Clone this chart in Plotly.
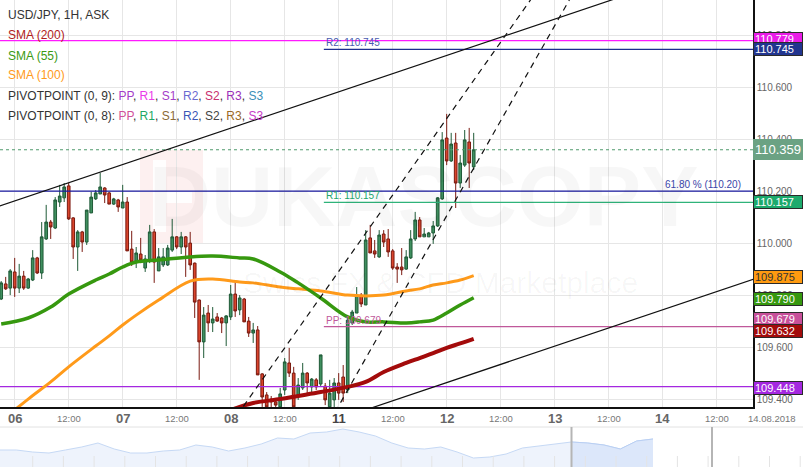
import plotly.graph_objects as go

# ---------------- data ----------------
# hour index: 0 = 06 Aug 00:00, weekend hours skipped
hours = list(range(-3, 103))
opens = [109.785, 109.843, 109.827, 109.889, 109.827, 109.873, 109.827, 109.858, 109.943, 109.885,
         110.016, 110.081, 110.058, 110.158, 110.174, 110.220, 110.097, 109.985, 110.043, 110.004,
         110.116, 110.170, 110.189, 110.212, 110.193, 110.150, 110.166, 110.135, 110.158, 109.977,
         109.931, 109.958, 109.904, 109.935, 110.043, 109.893, 109.916, 109.916, 109.973, 110.024,
         109.985, 110.024, 110.000, 109.923, 109.781, 109.620, 109.731, 109.693, 109.716, 109.712,
         109.693, 109.716, 109.804, 109.743, 109.785, 109.700, 109.654, 109.666, 109.497, 109.416,
         109.400, 109.389, 109.370, 109.435, 109.539, 109.500, 109.416, 109.443, 109.500, 109.447,
         109.474, 109.458, 109.450, 109.370, 109.397, 109.462, 109.485, 109.435, 109.693, 109.731,
         109.800, 109.762, 110.020, 109.970, 109.947, 110.035, 110.016, 109.970, 109.908, 109.908,
         109.900, 109.943, 110.016, 110.089, 110.024, 110.024, 110.039, 110.066, 110.170, 110.404,
         110.316, 110.385, 110.231, 110.300, 110.389, 110.293]
highs = [109.854, 109.870, 109.900, 109.943, 109.920, 109.893, 109.866, 109.973, 109.947, 110.081,
         110.147, 110.089, 110.177, 110.224, 110.231, 110.231, 110.100, 110.050, 110.047, 110.127,
         110.197, 110.204, 110.270, 110.215, 110.197, 110.174, 110.170, 110.224, 110.177, 110.047,
         109.985, 110.020, 109.954, 110.070, 110.054, 109.981, 109.981, 109.993, 110.093, 110.027,
         110.043, 110.027, 110.043, 109.925, 109.783, 109.754, 109.762, 109.754, 109.731, 109.716,
         109.723, 109.839, 109.850, 109.800, 109.789, 109.716, 109.693, 109.681, 109.500, 109.427,
         109.412, 109.404, 109.443, 109.558, 109.597, 109.524, 109.481, 109.539, 109.504, 109.481,
         109.481, 109.570, 109.462, 109.474, 109.481, 109.500, 109.531, 109.712, 109.743, 109.831,
         109.808, 110.050, 110.070, 110.012, 110.050, 110.050, 110.054, 109.977, 109.923, 109.981,
         109.973, 110.050, 110.120, 110.100, 110.058, 110.043, 110.085, 110.177, 110.427, 110.497,
         110.424, 110.424, 110.339, 110.435, 110.443, 110.424]
lows = [109.781, 109.820, 109.800, 109.793, 109.808, 109.820, 109.824, 109.854, 109.881, 109.862,
        110.012, 110.016, 110.054, 110.139, 110.158, 110.089, 109.939, 109.893, 109.966, 109.993,
        110.116, 110.166, 110.189, 110.154, 110.150, 110.147, 110.120, 110.135, 109.970, 109.912,
        109.904, 109.923, 109.889, 109.923, 109.847, 109.893, 109.908, 109.912, 109.966, 109.977,
        109.958, 109.870, 109.897, 109.712, 109.474, 109.558, 109.658, 109.658, 109.697, 109.654,
        109.604, 109.704, 109.716, 109.723, 109.697, 109.639, 109.616, 109.493, 109.370, 109.350,
        109.366, 109.350, 109.358, 109.416, 109.485, 109.358, 109.397, 109.435, 109.423, 109.423,
        109.435, 109.447, 109.377, 109.358, 109.358, 109.397, 109.389, 109.423, 109.685, 109.731,
        109.754, 109.762, 109.962, 109.943, 109.943, 109.985, 109.947, 109.897, 109.847, 109.877,
        109.897, 109.939, 110.008, 110.024, 110.024, 110.024, 109.997, 110.062, 110.166, 110.300,
        110.312, 110.135, 110.212, 110.293, 110.212, 110.281]
closes = [109.847, 109.824, 109.893, 109.827, 109.873, 109.827, 109.862, 109.943, 109.885, 110.024,
          110.081, 110.062, 110.166, 110.181, 110.216, 110.093, 109.985, 110.043, 110.004, 110.127,
          110.177, 110.193, 110.216, 110.185, 110.150, 110.170, 110.139, 110.158, 109.970, 109.927,
          109.962, 109.935, 109.939, 110.043, 109.927, 109.947, 109.947, 109.981, 110.024, 109.985,
          110.024, 109.985, 109.916, 109.773, 109.620, 109.723, 109.693, 109.708, 109.700, 109.693,
          109.720, 109.804, 109.739, 109.789, 109.697, 109.654, 109.666, 109.493, 109.408, 109.370,
          109.389, 109.377, 109.420, 109.543, 109.500, 109.370, 109.454, 109.500, 109.462, 109.477,
          109.447, 109.570, 109.397, 109.423, 109.462, 109.423, 109.423, 109.704, 109.735, 109.800,
          109.766, 110.012, 109.962, 109.958, 110.031, 110.004, 109.966, 109.904, 109.900, 109.897,
          109.947, 110.016, 110.089, 110.024, 110.035, 110.039, 110.066, 110.174, 110.397, 110.316,
          110.381, 110.231, 110.308, 110.397, 110.308, 110.359]

sma_hours = [-3, 3, 8, 12, 18, 21, 24, 27, 32, 39, 44, 50, 53, 59, 63, 68, 74, 78, 82, 87, 90, 93, 96, 99, 102]
sma55 = [109.689, 109.712, 109.754, 109.804, 109.858, 109.881, 109.908, 109.927, 109.935, 109.947, 109.950,
         109.943, 109.939, 109.889, 109.847, 109.789, 109.716, 109.697, 109.697, 109.693, 109.697, 109.704,
         109.731, 109.762, 109.790]
sma100 = [109.316, 109.400, 109.466, 109.524, 109.604, 109.643, 109.685, 109.723, 109.781, 109.854, 109.862,
          109.850, 109.847, 109.831, 109.824, 109.816, 109.800, 109.797, 109.800, 109.816, 109.824, 109.839,
          109.847, 109.858, 109.875]
sma200_hours = [48, 53, 59, 63, 68, 74, 78, 82, 87, 90, 93, 96, 99, 102]
sma200 = [109.358, 109.385, 109.400, 109.412, 109.427, 109.447, 109.466, 109.504, 109.539, 109.558,
          109.577, 109.597, 109.614, 109.632]

# drawn trend lines: (hour, price) end points
channel_upper = ([-4, 140], [110.139, 110.978])
channel_lower = ([75, 165], [109.341, 109.866])
dashed_a = ([48, 118], [109.303, 111.018])
dashed_b = ([70, 128], [109.313, 111.080])

# horizontal levels
level_r3 = 110.779
level_r2 = 110.745
last_price = 110.359
fib_618 = 110.20
level_r1 = 110.157
level_pp = 109.679
level_s = 109.448
pivot_start = 68.7

day_ticks = [0, 24, 48, 72, 96, 120, 144]
day_labels = ["06", "07", "08", "11", "12", "13", "14"]
half_ticks = [12, 36, 60, 84, 108, 132, 156]
half_labels = ["12:00"] * 7
y_ticks = [109.4, 109.6, 109.8, 110.0, 110.2, 110.4, 110.6, 110.8]

nav_values = [17, 17, 15, 14, 17, 20, 24, 18, 14, 14, 16, 17, 22, 20, 16, 19, 23, 29, 28, 34, 35,
              38, 35, 31, 24, 19, 18, 20, 15, 9, 10, 13, 19, 21, 23, 25, 24, 22, 18, 26, 28]
nav_sel_start = 35

# ---------------- layout helpers ----------------
W, H = 803, 467
PLOT_R = 753
PLOT_B = 407
XMIN, XMAX = -3.267, 164.07
YMIN, YMAX = 109.3696, 110.935

def px(x):
    return x / W

def py(y):
    return 1 - y / H

fig = go.Figure()

def hline(y, x0, color, width=1, dash="solid"):
    fig.add_trace(go.Scatter(x=[x0, XMAX], y=[y, y], mode="lines",
                             line=dict(color=color, width=width, dash=dash),
                             hoverinfo="skip", showlegend=False))

hline(level_r3, XMIN, "#ff1aff", 1.2)
hline(level_r2, pivot_start, "#1f2f8f", 1.2)
hline(last_price, XMIN, "#4f9a6c", 1, "3px,3px")
hline(fib_618, XMIN, "#1a1aa0", 1.2)
hline(level_r1, pivot_start, "#2fb37a", 1.2)
hline(level_pp, pivot_start, "#c0589a", 1.2)
hline(level_s, XMIN, "#a428e0", 1.2)

# moving averages
fig.add_trace(go.Scatter(x=sma_hours, y=sma100, mode="lines", line=dict(color="#ff9a1a", width=3, shape="spline"),
                         hoverinfo="skip", showlegend=False))
fig.add_trace(go.Scatter(x=sma_hours, y=sma55, mode="lines", line=dict(color="#36980f", width=3.5, shape="spline"),
                         hoverinfo="skip", showlegend=False))
fig.add_trace(go.Scatter(x=sma200_hours, y=sma200, mode="lines", line=dict(color="#a30b0b", width=4, shape="spline"),
                         hoverinfo="skip", showlegend=False))

fig.add_trace(go.Candlestick(
    x=hours, open=opens, high=highs, low=lows, close=closes,
    increasing=dict(line=dict(color="#1f5a37", width=1), fillcolor="#3f8f5f"),
    decreasing=dict(line=dict(color="#7a1a10", width=1), fillcolor="#d9442c"),
    whiskerwidth=0, showlegend=False, hoverinfo="skip"))

for (xs, ys), dash in [(channel_upper, "solid"), (channel_lower, "solid"),
                       (dashed_a, "6px,5px"), (dashed_b, "6px,5px")]:
    fig.add_trace(go.Scatter(x=xs, y=ys, mode="lines", line=dict(color="#111111", width=1.2, dash=dash),
                             hoverinfo="skip", showlegend=False))

# navigator
nav_x = list(range(len(nav_values)))
fig.add_trace(go.Scatter(x=nav_x, y=nav_values, mode="lines", fill="tozeroy", fillcolor="#eef3fc",
                         line=dict(color="#c6d9f5", width=1), xaxis="x2", yaxis="y2",
                         hoverinfo="skip", showlegend=False))
fig.add_trace(go.Scatter(x=nav_x[nav_sel_start:], y=nav_values[nav_sel_start:], mode="lines", fill="tozeroy",
                         fillcolor="#dce7fa", line=dict(color="#b9cff3", width=1), xaxis="x2", yaxis="y2",
                         hoverinfo="skip", showlegend=False))

shapes = []
# watermark logo
shapes.append(dict(type="rect", xref="paper", yref="paper", x0=px(140), x1=px(203), y0=py(243), y1=py(150),
                   fillcolor="rgba(235,70,70,0.08)", line=dict(width=0), layer="below"))
shapes.append(dict(type="rect", xref="paper", yref="paper", x0=px(153), x1=px(166), y0=py(232), y1=py(160),
                   fillcolor="rgba(255,255,255,0.9)", line=dict(width=0), layer="below"))
shapes.append(dict(type="rect", xref="paper", yref="paper", x0=px(166), x1=px(192), y0=py(203), y1=py(192),
                   fillcolor="rgba(255,255,255,0.9)", line=dict(width=0), layer="below"))
# navigator decorations
shapes.append(dict(type="line", xref="paper", yref="paper", x0=0, x1=1, y0=py(427), y1=py(427),
                   line=dict(color="#e2e2e2", width=1)))
k = 32.7
while k < W:
    shapes.append(dict(type="line", xref="paper", yref="paper", x0=px(k), x1=px(k), y0=0, y1=py(456),
                       line=dict(color="#e4e4e4", width=1)))
    k += 30.7
for hx in (571.5, 712):
    shapes.append(dict(type="line", xref="paper", yref="paper", x0=px(hx), x1=px(hx), y0=0, y1=py(427),
                       line=dict(color="#b5b5b5", width=2)))

annotations = []
FONT = "Arial, Liberation Sans, sans-serif"
annotations.append(dict(text="<b>DUKASCOPY</b>", xref="paper", yref="paper", x=px(424), y=py(196),
                        showarrow=False, font=dict(family="Liberation Sans Narrow, Arial Narrow, sans-serif",
                                                   size=86, color="rgba(0,0,0,0.032)")))
annotations.append(dict(text="Swiss FX & CFD Marketplace", xref="paper", yref="paper", x=px(440), y=py(282),
                        showarrow=False, font=dict(family=FONT, size=30, color="rgba(0,0,0,0.035)")))

# top-left legend
legend_lines = [
    ("USD/JPY, 1H, ASK", "#333333", 15),
    ("SMA (200)", "#b01c1c", 35),
    ("SMA (55)", "#3a9a14", 56),
    ("SMA (100)", "#ff9a1a", 75),
]
for txt, col, yy in legend_lines:
    annotations.append(dict(text=txt, xref="paper", yref="paper", x=px(6), y=py(yy), xanchor="left",
                            yanchor="middle", showarrow=False, font=dict(family=FONT, size=12, color=col)))

def colored(parts):
    return ", ".join(f'<span style="color:{c}">{t}</span>' for t, c in parts)

pv9 = [("PP", "#a43cc8"), ("R1", "#ea3cea"), ("S1", "#a43cc8"), ("R2", "#6a6ad0"),
       ("S2", "#c8306e"), ("R3", "#9a30b8"), ("S3", "#3a8fb8")]
pv8 = [("PP", "#d0509a"), ("R1", "#20a866"), ("S1", "#8b6a36"), ("R2", "#3a55b5"),
       ("S2", "#444444"), ("R3", "#9a6a26"), ("S3", "#c83cc8")]
annotations.append(dict(text="PIVOTPOINT (0, 9): " + colored(pv9), xref="paper", yref="paper", x=px(6), y=py(96),
                        xanchor="left", yanchor="middle", showarrow=False,
                        font=dict(family=FONT, size=12, color="#333333")))
annotations.append(dict(text="PIVOTPOINT (0, 8): " + colored(pv8), xref="paper", yref="paper", x=px(6), y=py(116),
                        xanchor="left", yanchor="middle", showarrow=False,
                        font=dict(family=FONT, size=12, color="#333333")))

# level texts
for txt, yv, col in [("R2: 110.745", level_r2, "#4a5ab0"), ("R1: 110.157", level_r1, "#22a56c"),
                     ("PP: 109.679", level_pp, "#c0589a")]:
    annotations.append(dict(text=txt, x=pivot_start, y=yv, xref="x", yref="y", xanchor="left", yanchor="bottom",
                            showarrow=False, font=dict(family=FONT, size=10, color=col), yshift=-1))
annotations.append(dict(text="61.80 % (110.20)", x=px(743), y=fib_618, xref="paper", yref="y", xanchor="right",
                        yanchor="bottom", showarrow=False, font=dict(family=FONT, size=10, color="#3a46a8"), yshift=-1))

# price boxes on right axis
boxes = [
    (level_r3, "110.779", "#ea1ce8", "#ffffff", 2, 11),
    (level_r2, "110.745", "#22358f", "#ffffff", 0, 11),
    (last_price, "110.359", "#6ba283", "#ffffff", 0, 13),
    (level_r1, "110.157", "#1caa6c", "#ffffff", 0, 11),
    (sma100[-1], "109.875", "#ff9a10", "#333333", -1, 11),
    (sma55[-1], "109.790", "#36980f", "#ffffff", -1, 11),
    (level_pp, "109.679", "#c8509a", "#ffffff", 8, 11),
    (sma200[-1], "109.632", "#a30b0b", "#ffffff", 8, 11),
    (level_s, "109.448", "#a428e0", "#ffffff", -1, 11),
]
for yv, txt, bg, fc, shift, fs in boxes:
    big = fs > 11
    annotations.append(dict(text=txt, x=px(PLOT_R), y=yv, xref="paper", yref="y", xanchor="left",
                            yanchor="middle", showarrow=False, align="left", yshift=shift,
                            width=46 if not big else 48, height=10 if not big else 17,
                            bgcolor=bg, bordercolor="#2a2a2a" if not big else bg, borderwidth=1, borderpad=1,
                            font=dict(family=FONT, size=fs, color=fc)))

# x labels
for t, lab in zip(day_ticks, day_labels):
    annotations.append(dict(text=f"<b>{lab}</b>", x=t, y=py(418), xref="x", yref="paper", showarrow=False,
                            yanchor="middle", font=dict(family=FONT, size=13,
                                                        color="#444444" if lab == "11" else "#666666")))
for t, lab in zip(half_ticks, half_labels):
    annotations.append(dict(text=lab, x=t, y=py(418), xref="x", yref="paper", showarrow=False,
                            yanchor="middle", font=dict(family=FONT, size=9.5, color="#777777")))
annotations.append(dict(text="14.08.2018", x=px(798), y=py(418), xref="paper", yref="paper", showarrow=False,
                        xanchor="right", yanchor="middle", font=dict(family=FONT, size=9.5, color="#777777")))

fig.update_layout(
    width=W, height=H, margin=dict(l=0, r=0, t=0, b=0),
    paper_bgcolor="white", plot_bgcolor="white",
    boxgap=0.15,
    xaxis=dict(domain=[0, px(PLOT_R)], range=[XMIN, XMAX], tickvals=day_ticks + half_ticks,
               showticklabels=False, ticks="", showgrid=True, gridcolor="#e6e6e6", gridwidth=1,
               zeroline=False, showline=True, linecolor="#111111", linewidth=1.5,
               rangeslider=dict(visible=False), anchor="y"),
    yaxis=dict(domain=[py(PLOT_B), 1], range=[YMIN, YMAX], side="right", tickvals=y_ticks,
               tickformat=".3f", ticks="", showgrid=True, gridcolor="#e6e6e6", zeroline=False,
               showline=True, linecolor="#111111", linewidth=1.5,
               tickfont=dict(family=FONT, size=10, color="#666666"), anchor="x"),
    xaxis2=dict(domain=[0, 1], range=[0, W / 16.325], visible=False, anchor="y2"),
    yaxis2=dict(domain=[0, py(427)], range=[0, 40], visible=False, anchor="x2"),
    shapes=shapes, annotations=annotations,
    font=dict(family=FONT),
)

fig.write_html("out.html", config={"displayModeBar": False},
               post_script="document.body.style.margin='0';document.body.style.overflow='hidden';")
